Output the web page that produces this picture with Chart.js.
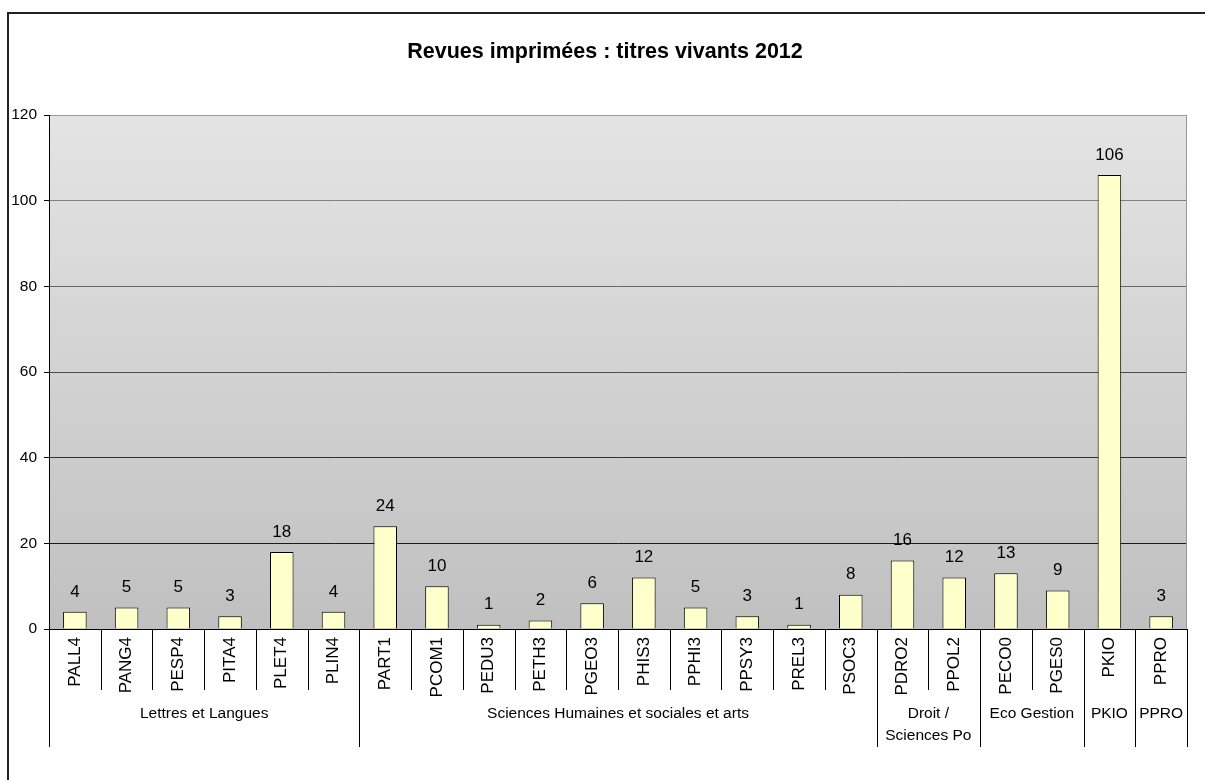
<!DOCTYPE html>
<html>
<head>
<meta charset="utf-8">
<script src="https://cdn.jsdelivr.net/npm/chart.js@4/dist/chart.umd.min.js"></script>
<style>
  html, body { margin: 0; padding: 0; background: #fff; }
  #wrap { position: absolute; left: 0; top: 0; width: 1205px; height: 780px; }
</style>
</head>
<body>
<div id="wrap"><canvas id="chart" width="1205" height="780"></canvas></div>
<script>
// données
const categories = ['PALL4', 'PANG4', 'PESP4', 'PITA4', 'PLET4', 'PLIN4',
  'PART1', 'PCOM1', 'PEDU3', 'PETH3', 'PGEO3', 'PHIS3', 'PPHI3', 'PPSY3', 'PREL3', 'PSOC3',
  'PDRO2', 'PPOL2', 'PECO0', 'PGES0', 'PKIO', 'PPRO'];
const values = [4, 5, 5, 3, 18, 4, 24, 10, 1, 2, 6, 12, 5, 3, 1, 8, 16, 12, 13, 9, 106, 3];
const groupLabels = [['Lettres et Langues'], ['Sciences Humaines et sociales et arts'],
  ['Droit /', 'Sciences Po'], ['Eco Gestion'], ['PKIO'], ['PPRO']];
const groupSizes = [6, 10, 2, 2, 1, 1];
const yTicks = [0, 20, 40, 60, 80, 100, 120];
const chartTitle = 'Revues imprimées : titres vivants 2012';

const FONT = '"Liberation Sans", Arial, sans-serif';

// fond dégradé + cadre + titre
const backgroundPlugin = {
  id: 'plotBackground',
  beforeDraw(chart) {
    const { ctx, chartArea: a } = chart;
    const g = ctx.createLinearGradient(0, a.top, 0, a.bottom);
    g.addColorStop(0, '#e4e4e4');
    g.addColorStop(1, '#c0c0c0');
    ctx.save();
    ctx.fillStyle = g;
    ctx.fillRect(a.left, a.top, a.right - a.left, a.bottom - a.top);
    ctx.restore();
  },
  afterDraw(chart) {
    const { ctx, chartArea: a } = chart;
    ctx.save();
    // bord droit du tracé
    ctx.strokeStyle = '#999';
    ctx.lineWidth = 1;
    ctx.beginPath();
    ctx.moveTo(Math.round(a.right) - 0.5, a.top);
    ctx.lineTo(Math.round(a.right) - 0.5, a.bottom);
    ctx.stroke();
    // cadre extérieur (gauche + haut)
    ctx.strokeStyle = '#222';
    ctx.lineWidth = 2;
    ctx.beginPath();
    ctx.moveTo(8, 780);
    ctx.lineTo(8, 13);
    ctx.lineTo(1205, 13);
    ctx.stroke();
    // titre centré sur la page
    ctx.font = 'bold 21.5px ' + FONT;
    ctx.fillStyle = '#000';
    ctx.textAlign = 'center';
    ctx.textBaseline = 'middle';
    ctx.fillText(chartTitle, 605, 52);
    ctx.restore();
  }
};

// étiquettes de valeurs au-dessus des barres
const valueLabelPlugin = {
  id: 'valueLabels',
  afterDatasetsDraw(chart) {
    const { ctx } = chart;
    const meta = chart.getDatasetMeta(0);
    ctx.save();
    ctx.font = '17px ' + FONT;
    ctx.fillStyle = '#000';
    ctx.textAlign = 'center';
    ctx.textBaseline = 'middle';
    meta.data.forEach((bar, i) => {
      ctx.fillText(String(values[i]), bar.x, bar.y - 20);
    });
    ctx.restore();
  }
};

// séparateurs de catégories et groupes
const groupAxisPlugin = {
  id: 'groupAxis',
  afterDraw(chart) {
    const { ctx, chartArea: a } = chart;
    const x = chart.scales.x;
    const step = (a.right - a.left) / categories.length;
    const edge = i => Math.round(a.left + i * step) + 0.5;
    ctx.save();
    ctx.strokeStyle = '#000';
    ctx.lineWidth = 1;
    // lignes entre catégories
    for (let i = 0; i <= categories.length; i++) {
      ctx.beginPath();
      ctx.moveTo(edge(i), a.bottom);
      ctx.lineTo(edge(i), a.bottom + 61);
      ctx.stroke();
    }
    // lignes entre groupes + libellés
    ctx.font = '15.5px ' + FONT;
    ctx.fillStyle = '#000';
    ctx.textAlign = 'center';
    ctx.textBaseline = 'middle';
    let start = 0;
    const bounds = [0];
    groupSizes.forEach((n, gi) => {
      const end = start + n;
      bounds.push(end);
      const cx = (x.getPixelForValue(start) + x.getPixelForValue(end - 1)) / 2;
      groupLabels[gi].forEach((line, li) => {
        ctx.fillText(line, cx, a.bottom + 85 + li * 22);
      });
      start = end;
    });
    bounds.forEach(b => {
      ctx.beginPath();
      ctx.moveTo(edge(b), a.bottom);
      ctx.lineTo(edge(b), a.bottom + 118);
      ctx.stroke();
    });
    ctx.restore();
  }
};

function gridColor(v) {
  const t = v / 120;
  const c = Math.round(0x99 * t);
  return 'rgb(' + c + ',' + c + ',' + c + ')';
}

new Chart(document.getElementById('chart').getContext('2d'), {
  type: 'bar',
  data: {
    labels: categories,
    datasets: [{
      data: values,
      backgroundColor: '#ffffcc',
      borderColor: '#000',
      borderWidth: 1,
      barPercentage: 0.455,
      categoryPercentage: 1
    }]
  },
  options: {
    responsive: false,
    animation: false,
    layout: { padding: { left: 0, right: 18, top: 115, bottom: 0 } },
    plugins: {
      legend: { display: false },
      tooltip: { enabled: false },
      title: { display: false }
    },
    scales: {
      y: {
        min: 0,
        max: 120,
        afterBuildTicks(scale) {
          scale.ticks = yTicks.map(v => ({ value: v }));
        },
        afterFit(scale) { scale.width = 49; },
        border: { display: true, color: '#000', width: 1 },
        grid: {
          color: ctx => gridColor(ctx.tick ? ctx.tick.value : 0),
          tickColor: '#000',
          tickLength: 5
        },
        ticks: {
          color: '#000',
          padding: 7,
          font: { family: FONT, size: 15.5 }
        }
      },
      x: {
        afterFit(scale) { scale.height = 151; },
        border: { display: true, color: '#000', width: 1 },
        grid: { display: true, drawOnChartArea: false, drawTicks: false },
        ticks: {
          color: '#000',
          padding: 8,
          minRotation: 90,
          maxRotation: 90,
          autoSkip: false,
          font: { family: FONT, size: 17 }
        }
      }
    }
  },
  plugins: [backgroundPlugin, valueLabelPlugin, groupAxisPlugin]
});
</script>
</body>
</html>
